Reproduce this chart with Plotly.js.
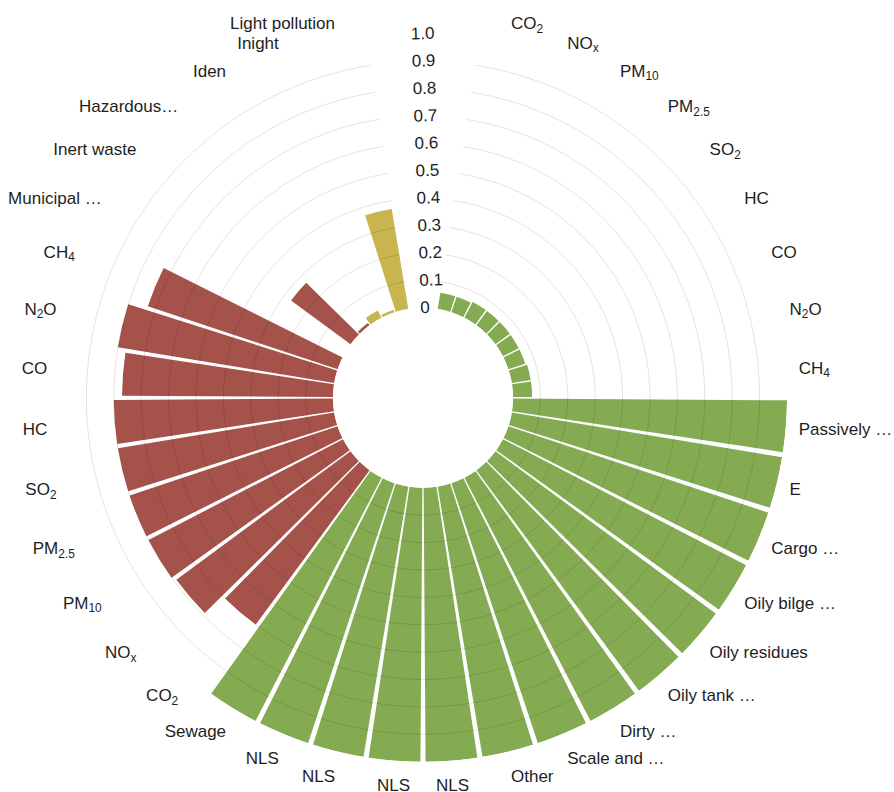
<!DOCTYPE html>
<html><head><meta charset="utf-8">
<script src="https://cdn.plot.ly/plotly-3.0.1.min.js"></script>
<style>html,body{margin:0;padding:0;background:#fff}</style>
</head><body><div id="chart" style="width:894px;height:792px"></div>
<script>
// Group 1 (green)
const greenLabels = ['CO<sub>2</sub>','NO<sub>x</sub>','PM<sub>10</sub>','PM<sub>2.5</sub>','SO<sub>2</sub>','HC','CO','N<sub>2</sub>O','CH<sub>4</sub>',
  'Passively …','E','Cargo …','Oily bilge …','Oily residues','Oily tank …','Dirty …','Scale and …','Other','NLS','NLS','NLS','NLS','Sewage'];
const greenValues = [0.06,0.06,0.065,0.065,0.065,0.065,0.065,0.07,0.07,
  1.0,1.0,1.0,1.0,1.0,1.0,1.0,1.0,1.0,1.0,1.0,1.0,1.0,1.0];
// Group 2 (red)
const redLabels = ['CO<sub>2</sub>','NO<sub>x</sub>','PM<sub>10</sub>','PM<sub>2.5</sub>','SO<sub>2</sub>','HC','CO','N<sub>2</sub>O','CH<sub>4</sub>',
  'Municipal …','Inert waste','Hazardous…'];
const redValues = [0.70,0.79,0.80,0.80,0.80,0.80,0.77,0.80,0.73,0,0.27,0.01];
// Group 3 (yellow)
const yellowLabels = ['Iden','Inight','Light pollution'];
const yellowValues = [0.03,0.01,0.37];
// radial ticks
const radialTicks = [0,0.1,0.2,0.3,0.4,0.5,0.6,0.7,0.8,0.9,1.0];
const radialTickText = ['0','0.1','0.2','0.3','0.4','0.5','0.6','0.7','0.8','0.9','1.0'];
const gapSlots = 2;

const colors = {green:'#84ab52', red:'#a4524a', yellow:'#c8b54f'};

const allLabels = greenLabels.concat(redLabels, yellowLabels);
const keys = allLabels.map((l,i)=>'k'+i);
const gapKeys = Array.from({length:gapSlots},(_,i)=>'gap'+i);
const categoryArray = keys.concat(gapKeys);
const nSlots = categoryArray.length;
const slotDeg = 360/nSlots;

const gKeys = keys.slice(0,greenLabels.length);
const rKeys = keys.slice(greenLabels.length, greenLabels.length+redLabels.length);
const yKeys = keys.slice(greenLabels.length+redLabels.length);

function barTrace(k,v,c){
  return {type:'barpolar', subplot:'polar', theta:k, r:v, width:0.91,
    marker:{color:c, line:{width:0}}, hoverinfo:'skip', showlegend:false};
}
const boundaries = [];
for(let i=1;i<nSlots-gapSlots+1;i++) boundaries.push(i*slotDeg + (gapSlots/2-1)*slotDeg);

const data = [
  barTrace(gKeys, greenValues, colors.green),
  barTrace(rKeys, redValues, colors.red),
  barTrace(yKeys, yellowValues, colors.yellow),
  {type:'scatterpolar', subplot:'polar2', r:[], theta:[], hoverinfo:'skip', showlegend:false}
];

const gapHalf = gapSlots*slotDeg/2;
const sector = [90+gapHalf, 450-gapHalf];
const hole = 90/364;
const font = {family:'"Liberation Sans", Arial, sans-serif', size:17, color:'#1e1e1e'};
const gridColor = 'rgba(0,0,0,0.11)';

const layout = {
  width:894, height:792, margin:{l:59,r:107,t:38,b:30},
  paper_bgcolor:'#fff', font:font, showlegend:false,
  barmode:'overlay',
  polar:{
    domain:{x:[0,1],y:[0,1]}, sector:sector, hole:hole, bgcolor:'#fff',
    angularaxis:{type:'category', categoryorder:'array', categoryarray:categoryArray,
      rotation:90-gapHalf-slotDeg/2, direction:'clockwise',
      tickmode:'array', tickvals:keys, ticktext:allLabels,
      showgrid:false, showline:false, ticks:'outside', ticklen:9, tickcolor:'rgba(0,0,0,0)',
      tickfont:font},
    radialaxis:{range:[0,1], angle:92, side:'clockwise', tickangle:90, tickmode:'array',
      tickvals:radialTicks, ticktext:radialTickText, showgrid:false, showline:false,
      ticks:'', tickfont:font}
  },
  polar2:{
    domain:{x:[0,1],y:[0,1]}, sector:sector, hole:hole, bgcolor:'rgba(0,0,0,0)',
    angularaxis:{type:'linear', thetaunit:'degrees', rotation:90, direction:'clockwise',
      tickmode:'array', tickvals:boundaries, showticklabels:false, ticks:'',
      showgrid:true, gridcolor:gridColor, gridwidth:1, showline:false},
    radialaxis:{range:[0,1], tickmode:'array', tickvals:radialTicks.slice(1),
      showticklabels:false, ticks:'', showgrid:true, gridcolor:gridColor, gridwidth:1, showline:false}
  }
};
Plotly.newPlot('chart', data, layout, {displayModeBar:false, staticPlot:true});
</script></body></html>
